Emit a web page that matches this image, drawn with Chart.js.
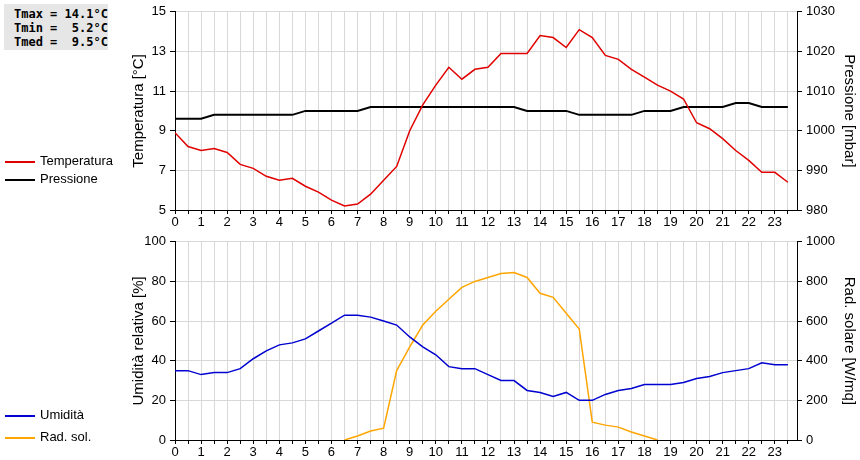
<!DOCTYPE html><html><head><meta charset="utf-8">
<script src="https://cdn.jsdelivr.net/npm/chart.js@4"></script>
<style>
body{margin:0;width:860px;height:460px;background:#fff;position:relative;font-family:"Liberation Sans",Arial,sans-serif;overflow:hidden}
canvas{position:absolute;left:0}
#stats{position:absolute;left:4px;top:4px;width:104px;height:46px;background:#e6e6e6;font:bold 12px "DejaVu Sans Mono",monospace;line-height:14px;padding:3px 0 0 10px;box-sizing:border-box;white-space:pre}
.lg{position:absolute;left:5px;font-size:13px;height:16px;line-height:16px}
.lg span{display:inline-block;width:30px;height:2px;vertical-align:middle;margin-right:5px}
</style></head><body>
<canvas id="c1" width="860" height="230" style="top:0"></canvas>
<canvas id="c2" width="860" height="230" style="top:230px"></canvas>
<div id="stats">Tmax = 14.1°C
Tmin =  5.2°C
Tmed =  9.5°C</div>
<div class="lg" style="top:153px"><span style="background:#e00000"></span>Temperatura</div>
<div class="lg" style="top:171px"><span style="background:#000"></span>Pressione</div>
<div class="lg" style="top:407px"><span style="background:#0000d0"></span>Umidità</div>
<div class="lg" style="top:429px"><span style="background:#ffa500"></span>Rad. sol.</div>
<script>
const hours=[0,0.5,1,1.5,2,2.5,3,3.5,4,4.5,5,5.5,6,6.5,7,7.5,8,8.5,9,9.5,10,10.5,11,11.5,12,12.5,13,13.5,14,14.5,15,15.5,16,16.5,17,17.5,18,18.5,19,19.5,20,20.5,21,21.5,22,22.5,23,23.5];
const temperatura=[8.9,8.2,8.0,8.1,7.9,7.3,7.1,6.7,6.5,6.6,6.2,5.9,5.5,5.2,5.3,5.8,6.5,7.2,9.0,10.3,11.3,12.2,11.6,12.1,12.2,12.9,12.9,12.9,13.8,13.7,13.2,14.1,13.7,12.8,12.6,12.1,11.7,11.3,11.0,10.6,9.4,9.1,8.6,8.0,7.5,6.9,6.9,6.4];
const pressione=[1003,1003,1003,1004,1004,1004,1004,1004,1004,1004,1005,1005,1005,1005,1005,1006,1006,1006,1006,1006,1006,1006,1006,1006,1006,1006,1006,1005,1005,1005,1005,1004,1004,1004,1004,1004,1005,1005,1005,1006,1006,1006,1006,1007,1007,1006,1006,1006];
const umidita=[35,35,33,34,34,36,41,45,48,49,51,55,59,63,63,62,60,58,52,47,43,37,36,36,33,30,30,25,24,22,24,20,20,23,25,26,28,28,28,29,31,32,34,35,36,39,38,38];
const radsol=[null,null,null,null,null,null,null,null,null,null,null,null,null,0,20,45,60,350,470,580,650,710,770,800,820,840,845,820,740,720,640,560,90,75,65,40,20,0,null,null,null,null,null,null,null,null,null,null];
const pts=a=>a.map((v,i)=>({x:hours[i],y:v}));
const F={family:"Liberation Sans",size:13};
Chart.defaults.color='#000';Chart.defaults.font=F;
function xScale(){return{type:'linear',min:0,max:23.85,afterFit:s=>{s.height=20},
 grid:{color:'#d8d8d8',drawTicks:true,tickLength:4,tickColor:'#000'},border:{color:'#000'},
 afterBuildTicks:s=>{const t=[];for(let v=0;v<=23.5;v+=0.5)t.push({value:v});s.ticks=t;},
 ticks:{autoSkip:false,maxRotation:0,padding:1,font:F,callback:v=>Number.isInteger(v)?String(v):''}};}
function yScale(pos,min,max,step,title,grid){return{position:pos,min,max,afterFit:s=>{s.width=pos==='left'?47:63},
 ticks:{stepSize:step,font:F,padding:4,callback:v=>String(v)},border:{color:'#000'},
 grid:{display:true,drawOnChartArea:grid,color:'#d8d8d8',tickColor:'#000',tickLength:5},
 title:{display:true,text:title,font:{family:"Liberation Sans",size:15},padding:2}};}
function mk(id,ds,yl,yr){new Chart(document.getElementById(id),{type:'line',data:{datasets:ds},
 options:{responsive:false,animation:false,layout:{padding:{top:10,left:128,right:0,bottom:0}},
 plugins:{legend:{display:false},tooltip:{enabled:false}},elements:{point:{radius:0},line:{tension:0,borderWidth:1.5}},
 scales:{x:xScale(),y:yl,y2:yr}}});}
mk('c1',[{data:pts(temperatura),borderColor:'#e00000',yAxisID:'y'},{data:pts(pressione),borderColor:'#000',borderWidth:2,yAxisID:'y2'}],
 yScale('left',5,15,2,'Temperatura [°C]',true),yScale('right',980,1030,10,'Pressione [mbar]',false));
mk('c2',[{data:pts(umidita),borderColor:'#0000d0',yAxisID:'y'},{data:pts(radsol),borderColor:'#ffa500',yAxisID:'y2'}],
 yScale('left',0,100,20,'Umidità relativa [%]',true),yScale('right',0,1000,200,'Rad. solare [W/mq]',false));
</script></body></html>
